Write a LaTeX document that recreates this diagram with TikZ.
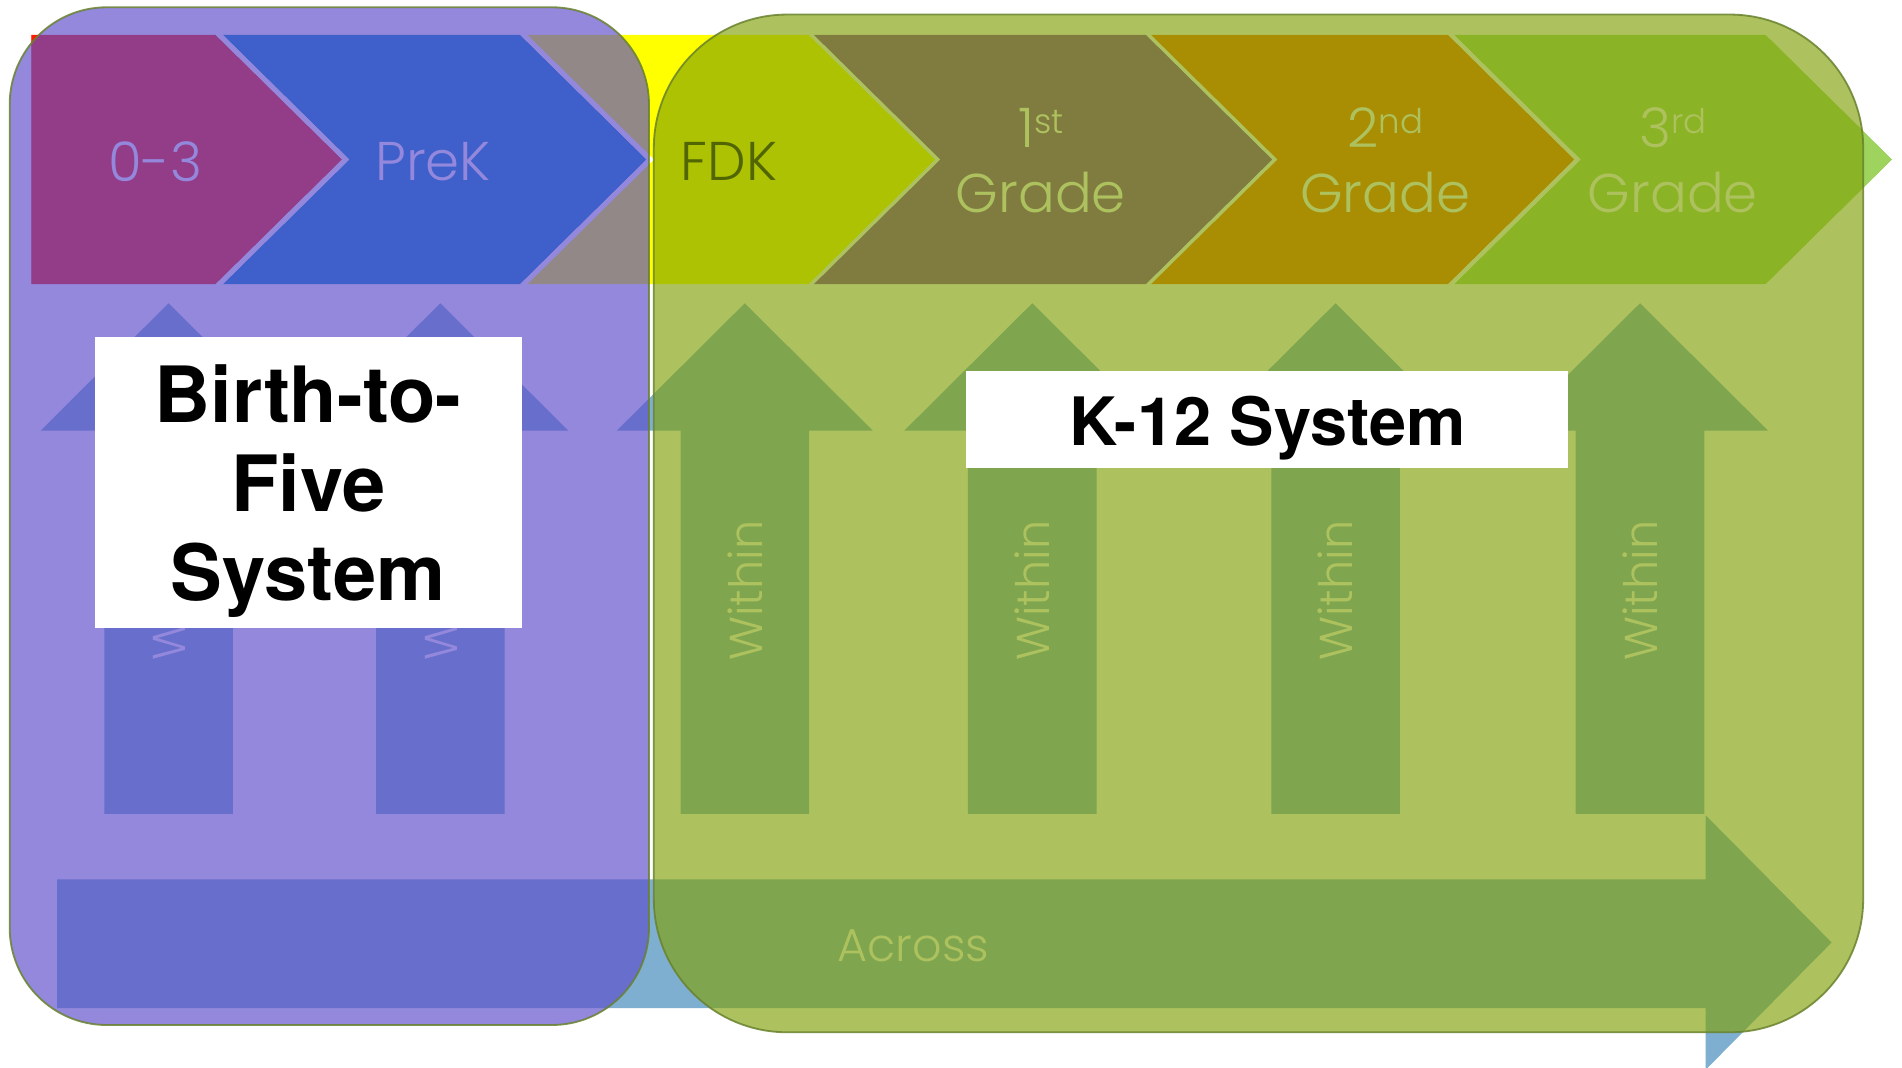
\documentclass[tikz,border=0pt]{standalone}
\usepackage{fontspec}
\newfontfamily\gothic{Poppins Light}
\newfontfamily\heros{TeX Gyre Heros}
\definecolor{cRed}{RGB}{255,25,0}
\definecolor{cBlue}{RGB}{0,128,205}
\definecolor{cYellow}{RGB}{255,255,0}
\definecolor{cViolet}{RGB}{128,61,169}
\definecolor{cOrange}{RGB}{244,111,0}
\definecolor{cLime}{RGB}{158,211,94}
\definecolor{cArrow}{RGB}{126,175,208}
\definecolor{cPanelP}{RGB}{94,79,203}
\definecolor{cPanelG}{RGB}{128,161,5}
\definecolor{cEdge}{RGB}{105,130,45}
\newcommand\supx[1]{\raisebox{12pt}{\fontsize{28}{28}\selectfont #1}}
\begin{document}
\begin{tikzpicture}[x=1pt,y=-1pt,
  chev/.style={draw=white, line width=1.2pt, line join=miter},
  chevtext/.style={text=white, font=\gothic\fontsize{45}{50}\selectfont, inner sep=0pt},
  arrowtext/.style={text=white, font=\gothic\fontsize{38}{40}\selectfont, inner sep=0pt},
  blockarrow/.style={fill=cArrow},
  panel/.style={draw=cEdge, line width=1.5pt, draw opacity=0.85},
  whitebox/.style={fill=white, inner sep=0pt},
  boxtext/.style={text=black, font=\heros\bfseries, align=center, inner sep=0pt}
]
\clip (0,0) rectangle (1568,880);
\fill[white] (0,0) rectangle (1568,880);

% chevron row
\fill[chev, fill=cRed] (25,28) -- (178,28) -- (283,131.5) -- (178,235) -- (25,235) -- cycle;
\fill[chev, fill=cBlue] (182,28) -- (429,28) -- (534,131.5) -- (429,235) -- (182,235) -- (287,131.5) -- cycle;
\fill[chev, fill=cYellow] (433,28) -- (667,28) -- (772,131.5) -- (667,235) -- (433,235) -- (538,131.5) -- cycle;
\fill[chev, fill=cViolet] (669,28) -- (945,28) -- (1050,131.5) -- (945,235) -- (669,235) -- (774,131.5) -- cycle;
\fill[chev, fill=cOrange] (947,28) -- (1194,28) -- (1299,131.5) -- (1194,235) -- (947,235) -- (1052,131.5) -- cycle;
\fill[chev, fill=cLime] (1197,28) -- (1456,28) -- (1561,131.5) -- (1456,235) -- (1197,235) -- (1302,131.5) -- cycle;
\draw[chev] (25,28) -- (178,28) -- (283,131.5) -- (178,235) -- (25,235) -- cycle;
\draw[chev] (182,28) -- (429,28) -- (534,131.5) -- (429,235) -- (182,235) -- (287,131.5) -- cycle;
\draw[chev] (433,28) -- (667,28) -- (772,131.5) -- (667,235) -- (433,235) -- (538,131.5) -- cycle;
\draw[chev] (669,28) -- (945,28) -- (1050,131.5) -- (945,235) -- (669,235) -- (774,131.5) -- cycle;
\draw[chev] (947,28) -- (1194,28) -- (1299,131.5) -- (1194,235) -- (947,235) -- (1052,131.5) -- cycle;
\draw[chev] (1197,28) -- (1456,28) -- (1561,131.5) -- (1456,235) -- (1197,235) -- (1302,131.5) -- cycle;

\node[chevtext] (t03) at (128,133) {0-3};
\node[chevtext] (tprek) at (357,133) {PreK};
\node[chevtext, text=black] (tfdk) at (601,133) {FDK};
\node[chevtext, anchor=base] (t1a) at (858,122) {1\supx{st}};
\node[chevtext, anchor=base] (t1b) at (858,175) {Grade};
\node[chevtext, anchor=base] (t2a) at (1142,122) {2\supx{nd}};
\node[chevtext, anchor=base] (t2b) at (1142,175) {Grade};
\node[chevtext, anchor=base] (t3a) at (1379,122) {3\supx{rd}};
\node[chevtext, anchor=base] (t3b) at (1379,175) {Grade};

% within arrows
\foreach \c [count=\i] in {139,363,614,851,1101,1352} {
  \fill[blockarrow] (\c-53,671) -- (\c-53,355) -- (\c-105.5,355) -- (\c,250) -- (\c+105.5,355) -- (\c+53,355) -- (\c+53,671) -- cycle;
  \node[arrowtext, rotate=90] (w\i) at (\c,487) {Within};
}

% across arrow
\fill[blockarrow] (47,725) -- (1406,725) -- (1406,672) -- (1510,777) -- (1406,882) -- (1406,831) -- (47,831) -- cycle;
\node[arrowtext] (across) at (753,780) {Across};

% panels
\draw[panel, fill=cPanelP, fill opacity=0.67, rounded corners=80pt] (8,6) rectangle (535,845);
\draw[panel, fill=cPanelG, fill opacity=0.64, rounded corners=110pt] (539,12) rectangle (1536,851);

% labels
\node[whitebox, minimum width=352pt, minimum height=240pt] (b2fbox) at (254,398) {};
\node[boxtext, font=\heros\bfseries\fontsize{64}{73.5}\selectfont] (b2f) at (254,405) {Birth-to-\\Five\\System};
\node[whitebox, minimum width=497pt, minimum height=80pt] (k12box) at (1044.5,346) {};
\node[boxtext, font=\heros\bfseries\fontsize{55}{60}\selectfont] (k12) at (1045,353) {K-12 System};
\end{tikzpicture}
\end{document}
